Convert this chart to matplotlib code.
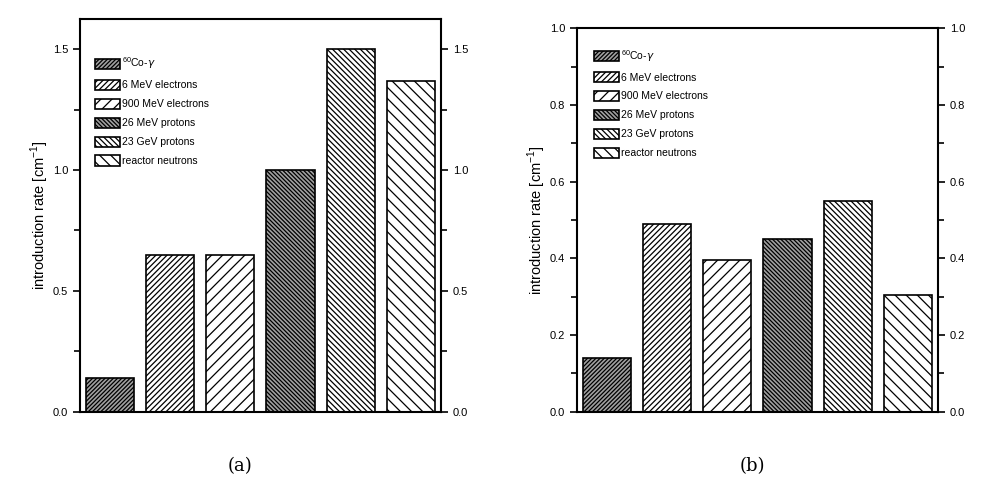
import numpy as np
import matplotlib
matplotlib.use('Agg')
import matplotlib.pyplot as plt
from matplotlib.ticker import MultipleLocator

# sources, same order in both panels
sources = [r'$^{60}$Co-$\gamma$', '6 MeV electrons', '900 MeV electrons',
           '26 MeV protons', '23 GeV protons', 'reactor neutrons']
rate_a = [0.14, 0.65, 0.65, 1.00, 1.50, 1.37]
rate_b = [0.14, 0.49, 0.395, 0.45, 0.55, 0.305]

hatches = ['////////', '//////', '///', '\\\\\\\\\\\\\\\\', '\\\\\\\\\\\\', '\\\\\\']
faces = ['#a0a0a0', 'white', 'white', '#a0a0a0', 'white', 'white']

plt.rcParams['font.family'] = ['Liberation Sans', 'DejaVu Sans']
plt.rcParams['hatch.linewidth'] = 0.9
plt.rcParams['mathtext.fontset'] = 'custom'
plt.rcParams['mathtext.rm'] = 'Liberation Sans'

fig = plt.figure(figsize=(9.97, 4.9), dpi=100)
ax_a = fig.add_axes([0.0802, 0.1598, 0.3621, 0.8008])
ax_b = fig.add_axes([0.5787, 0.1598, 0.3621, 0.7826])


def panel(ax, rate, ytop, major, minor, leg_xy):
    x = np.arange(1, len(rate) + 1)
    for i in range(len(rate)):
        ax.bar(x[i], rate[i], width=0.8, facecolor=faces[i], edgecolor='black',
               hatch=hatches[i], linewidth=1.2, label=sources[i])
    ax.set_xlim(0.5, 6.5)
    ax.set_ylim(0, ytop)
    ax.set_xticks([])
    ax.yaxis.set_major_locator(MultipleLocator(major))
    ax.yaxis.set_minor_locator(MultipleLocator(minor))
    ax.tick_params(axis='y', which='both', direction='out', left=True, right=True,
                   labelleft=True, labelright=True, labelsize=8, width=1.2)
    ax.tick_params(axis='y', which='major', length=5)
    ax.tick_params(axis='y', which='minor', length=4)
    for s in ax.spines.values():
        s.set_linewidth(1.5)
    ax.set_ylabel('introduction rate [cm$^{-1}$]', fontsize=10.5, labelpad=1)
    ax.legend(loc='upper left', bbox_to_anchor=leg_xy, frameon=False,
              fontsize=7.5, handlelength=2.4, handleheight=1.2,
              handletextpad=0.2, labelspacing=0.78, borderaxespad=0)


panel(ax_a, rate_a, 1.624, 0.5, 0.25, (0.03, 0.918))
panel(ax_b, rate_b, 1.0, 0.2, 0.1, (0.035, 0.96))

fig.text(0.241, 0.038, '(a)', fontsize=13, family='DejaVu Serif', ha='center')
fig.text(0.755, 0.038, '(b)', fontsize=13, family='DejaVu Serif', ha='center')

fig.savefig('out.png', dpi=100)
